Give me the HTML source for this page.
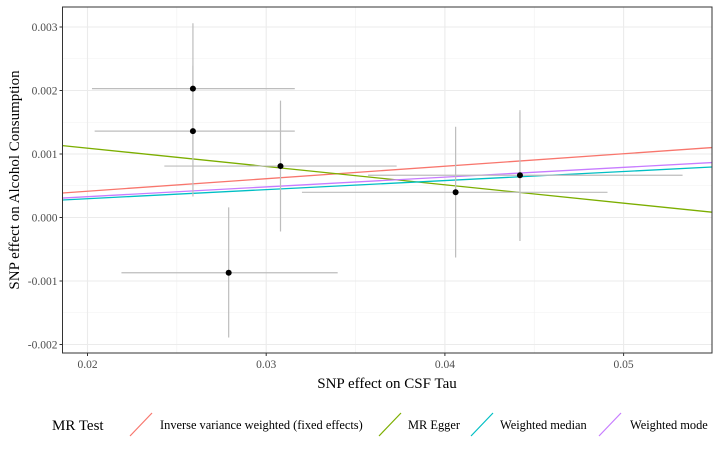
<!DOCTYPE html>
<html><head><meta charset="utf-8"><style>
body{margin:0;background:#fff;width:720px;height:451px;overflow:hidden;font-family:"Liberation Serif",serif}
</style></head><body>
<svg id="chart" width="720" height="451" xmlns="http://www.w3.org/2000/svg" font-family="Liberation Serif, serif">
<g id="grid"></g>
<g id="lines"></g>
<g id="errs"></g>
<g id="pts"></g>
<rect x="62.5" y="7" width="649.5" height="346" fill="none" stroke="#333" stroke-width="1"/>
<g id="axes"></g>
<text x="387" y="388" text-anchor="middle" font-size="15" fill="#000">SNP effect on CSF Tau</text>
<text transform="translate(19,180) rotate(-90)" text-anchor="middle" font-size="15" fill="#000">SNP effect on Alcohol Consumption</text>
<g font-size="12.4">
<text x="52" y="430" font-size="15">MR Test</text>
<g><line x1="130" y1="436" x2="152" y2="413" stroke="#F8766D" stroke-width="1.2"/><text x="160" y="429">Inverse variance weighted (fixed effects)</text></g>
<g><line x1="379" y1="436" x2="401" y2="413" stroke="#7CAE00" stroke-width="1.2"/><text x="408" y="429">MR Egger</text></g>
<g><line x1="471" y1="436" x2="493" y2="413" stroke="#00BFC4" stroke-width="1.2"/><text x="500" y="429">Weighted median</text></g>
<g><line x1="599" y1="436" x2="621" y2="413" stroke="#C77CFF" stroke-width="1.2"/><text x="630" y="429">Weighted mode</text></g>
</g>
</svg>
<script>
const ptX=[0.0259,0.0259,0.0308,0.0279,0.0406,0.0442];
const ptY=[0.00203,0.00136,0.00081,-0.00087,0.000397,0.000665];
const xLo=[0.02025,0.0204,0.0243,0.0219,0.0320,0.0357];
const xHi=[0.0316,0.0316,0.0373,0.0340,0.0491,0.0533];
const yLo=[0.0010,0.00033,-0.00022,-0.00189,-0.00063,-0.00037];
const yHi=[0.00306,0.00239,0.00184,0.00016,0.00143,0.00169];
const lineNames=["ivw","egger","median","mode"];
const lineColors=["#F8766D","#7CAE00","#00BFC4","#C77CFF"];
const lineIntercept=[0.00002,0.00167,0.00001,0.00002];
const lineSlope=[0.0197,-0.0289,0.0143,0.0154];
const xTicks=[0.02,0.03,0.04,0.05];
const xTickLabels=["0.02","0.03","0.04","0.05"];
const yTicks=[0.003,0.002,0.001,0,-0.001,-0.002];
const yTickLabels=["0.003","0.002","0.001","0.000","-0.001","-0.002"];

const X0=62.5,X1=712,Y0=7,Y1=353;
const xMin=0.0186,xMax=0.0549;
const sx=v=>87.5+(v-0.02)*17870;
const sy=v=>217.5-v*63500;
const NS="http://www.w3.org/2000/svg";
function mk(tag,attrs,parent){const e=document.createElementNS(NS,tag);for(const k in attrs)e.setAttribute(k,attrs[k]);document.getElementById(parent).appendChild(e);return e;}
for(let i=0;i<xTicks.length;i++){
 const m=xTicks[i]+0.005; if(sx(m)<X1){const g=mk("line",{x1:sx(m),x2:sx(m),y1:Y0,y2:Y1,stroke:"#f0f0f0","stroke-width":0.6},"grid");
 
 }
}
for(let i=0;i<yTicks.length;i++){
 const m=yTicks[i]-0.0005; if(sy(m)<Y1){const g=mk("line",{x1:X0,x2:X1,y1:sy(m),y2:sy(m),stroke:"#f0f0f0","stroke-width":0.6},"grid");
 
 }
}
xTicks.forEach((t,i)=>{
 const g=mk("line",{x1:sx(t),x2:sx(t),y1:Y0,y2:Y1,stroke:"#ebebeb","stroke-width":1.1},"grid");
 
 
 const tk=mk("line",{x1:sx(t),x2:sx(t),y1:Y1,y2:Y1+3,stroke:"#333"},"axes");
 
 
 const l=mk("text",{x:sx(t),y:Y1+15,"text-anchor":"middle","font-size":"11.5",fill:"#4d4d4d"},"axes");
 l.textContent=xTickLabels[i];
 
 
});
yTicks.forEach((t,i)=>{
 const g=mk("line",{x1:X0,x2:X1,y1:sy(t),y2:sy(t),stroke:"#ebebeb","stroke-width":1.1},"grid");
 
 
 const tk=mk("line",{x1:X0-3,x2:X0,y1:sy(t),y2:sy(t),stroke:"#333"},"axes");
 
 
 const l=mk("text",{x:X0-5,y:sy(t)+4,"text-anchor":"end","font-size":"11.5",fill:"#4d4d4d"},"axes");
 l.textContent=yTickLabels[i];
 
 
});
ptX.forEach((x,i)=>{
 const h=mk("line",{x1:sx(xLo[i]),x2:sx(xHi[i]),y1:sy(ptY[i]),y2:sy(ptY[i]),stroke:"#bdbdbd","stroke-width":1.2},"errs");
 
 
 const v=mk("line",{x1:sx(x),x2:sx(x),y1:sy(yLo[i]),y2:sy(yHi[i]),stroke:"#bdbdbd","stroke-width":1.2},"errs");
 
 
});
lineNames.forEach((n,i)=>{
 const l=mk("line",{x1:X0,x2:X1,y1:sy(lineIntercept[i]+lineSlope[i]*xMin),y2:sy(lineIntercept[i]+lineSlope[i]*xMax),stroke:lineColors[i],"stroke-width":1.3},"lines");
 
 
});
ptX.forEach((x,i)=>{
 const c=mk("circle",{cx:sx(x),cy:sy(ptY[i]),r:3,fill:"#000"},"pts");
 
 
});
</script>
</body></html>
